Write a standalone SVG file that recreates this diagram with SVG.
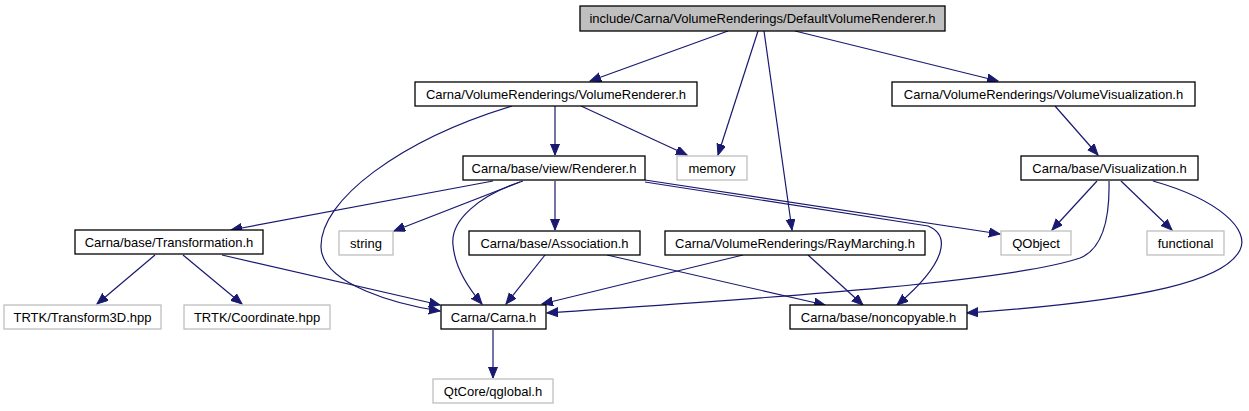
<svg xmlns="http://www.w3.org/2000/svg" width="1249" height="411" viewBox="0 0 1249 411">
<style>
.n rect{fill:#fff;stroke:#000;stroke-width:1.3}
.x rect{fill:#fff;stroke:#bfbfbf;stroke-width:1.3}
.r rect{fill:#bfbfbf;stroke:#000;stroke-width:1.3}
text{font-family:"Liberation Sans",Arial,sans-serif;font-size:13px;text-anchor:middle;fill:#000}
#edges path{fill:none;stroke:#191970;stroke-width:1.2;marker-end:url(#ah)}
</style>
<defs>
<marker id="ah" markerUnits="userSpaceOnUse" markerWidth="13" markerHeight="10" refX="11" refY="4.5" orient="auto">
<path d="M0,0 L11,4.5 L0,9 z" fill="#191970" stroke="#191970" stroke-width="1"/>
</marker>
</defs>
<rect width="1249" height="411" fill="#fff"/>
<g id="edges">
<path d="M728,31 L590,81"/>
<path d="M758,31 L718,155"/>
<path d="M764,31 L792,230"/>
<path d="M795,31 L998,81"/>
<path d="M555,106 L555,155"/>
<path d="M581,106 L687,155"/>
<path d="M512,106 C400,140 320,200 321,247 C322,285 400,305 440,311"/>
<path d="M493,181 L231,230"/>
<path d="M520,182 L394,231"/>
<path d="M523,181 C480,195 450,220 453,245 C455,270 470,290 482,304"/>
<path d="M555,181 L555,230"/>
<path d="M645,180 L1000,234"/>
<path d="M645,182 L928,226 C950,235 948,262 897,305"/>
<path d="M1055,106 L1098,155"/>
<path d="M1097,181 L1052,230"/>
<path d="M1121,181 L1172,230"/>
<path d="M1109,181 C1110,225 1100,250 1080,258 C1000,285 700,302 547,313"/>
<path d="M1153,181 C1220,200 1250,230 1240,250 C1225,280 1150,300 967,313"/>
<path d="M155,255 L97,304"/>
<path d="M183,255 L242,304"/>
<path d="M222,255 L440,305"/>
<path d="M545,255 L506,304"/>
<path d="M607,255 L825,305"/>
<path d="M743,255 L542,304"/>
<path d="M808,255 L863,305"/>
<path d="M493,330 L493,378"/>
</g>
<g id="n_default" class="r"><rect x="580" y="6" width="365" height="25"/><text x="762.5" y="23">include/Carna/VolumeRenderings/DefaultVolumeRenderer.h</text></g>
<g id="n_volrenderer" class="n"><rect x="415" y="82" width="282" height="24"/><text x="556" y="98.5">Carna/VolumeRenderings/VolumeRenderer.h</text></g>
<g id="n_volvis" class="n"><rect x="892" y="82" width="303" height="24"/><text x="1043.5" y="98.5">Carna/VolumeRenderings/VolumeVisualization.h</text></g>
<g id="n_renderer" class="n"><rect x="463" y="156" width="182" height="24"/><text x="554" y="172.5">Carna/base/view/Renderer.h</text></g>
<g id="n_memory" class="x"><rect x="677" y="156" width="70" height="24"/><text x="712" y="172.5">memory</text></g>
<g id="n_vis" class="n"><rect x="1021" y="156" width="177" height="24"/><text x="1109.5" y="172.5">Carna/base/Visualization.h</text></g>
<g id="n_transformation" class="n"><rect x="75" y="230" width="188" height="24"/><text x="169" y="246.5">Carna/base/Transformation.h</text></g>
<g id="n_string" class="x"><rect x="339" y="231" width="54" height="24"/><text x="366" y="247.5">string</text></g>
<g id="n_association" class="n"><rect x="469" y="231" width="171" height="24"/><text x="554.5" y="247.5">Carna/base/Association.h</text></g>
<g id="n_raymarching" class="n"><rect x="665" y="231" width="260" height="24"/><text x="795" y="247.5">Carna/VolumeRenderings/RayMarching.h</text></g>
<g id="n_qobject" class="x"><rect x="1001" y="231" width="70" height="24"/><text x="1036" y="247.5">QObject</text></g>
<g id="n_functional" class="x"><rect x="1147" y="231" width="77" height="24"/><text x="1185.5" y="247.5">functional</text></g>
<g id="n_transform3d" class="x"><rect x="4" y="305" width="157" height="24"/><text x="82.5" y="321.5">TRTK/Transform3D.hpp</text></g>
<g id="n_coordinate" class="x"><rect x="184" y="305" width="146" height="24"/><text x="257" y="321.5">TRTK/Coordinate.hpp</text></g>
<g id="n_carna" class="n"><rect x="441" y="305" width="105" height="24"/><text x="493.5" y="321.5">Carna/Carna.h</text></g>
<g id="n_noncopyable" class="n"><rect x="790" y="305" width="177" height="24"/><text x="878.5" y="321.5">Carna/base/noncopyable.h</text></g>
<g id="n_qglobal" class="x"><rect x="433" y="379" width="120" height="24"/><text x="493" y="395.5">QtCore/qglobal.h</text></g>
</svg>
